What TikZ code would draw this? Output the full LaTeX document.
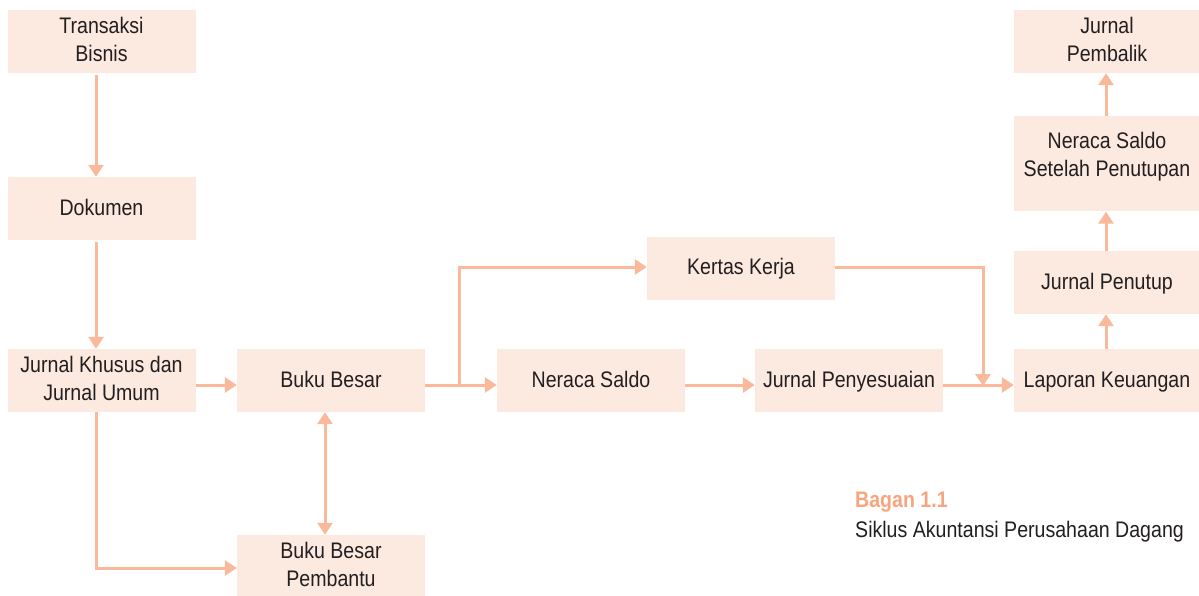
\documentclass[tikz,border=0pt]{standalone}
\usepackage{fontspec}
\setmainfont{Liberation Sans}[FakeStretch=0.87]
\usetikzlibrary{arrows.meta}
\definecolor{boxfill}{HTML}{FCEAE1}
\definecolor{arrcol}{HTML}{F9B99A}
\definecolor{txtcol}{HTML}{231F20}
\definecolor{capcol}{HTML}{F7A57F}
\newcommand\lastdp[1]{\rule[-#1pt]{0pt}{#1pt}}
\begin{document}
\begin{tikzpicture}[x=1pt,y=-1pt,
  box/.style={rectangle, fill=boxfill, draw=none, inner sep=0pt, align=center,
    text=txtcol, font=\fontsize{22.5}{28}\selectfont},
  wbox/.style={box, minimum width=188pt, minimum height=63pt},
  oneline/.style={text height=16pt, text depth=3pt},
  arr/.style={draw=arrcol, line width=3pt, -{Triangle[width=15pt,length=12pt]}},
  darr/.style={draw=arrcol, line width=3pt, {Triangle[width=15pt,length=12pt]}-{Triangle[width=15pt,length=12pt]}},
  captext/.style={anchor=base west, inner sep=0pt, font=\fontsize{22.5}{28}\selectfont}]
\useasboundingbox (0,0) rectangle (1199,596);
% boxes
\node[wbox] (tb) at (101.5,41.5) {Transaksi\\Bisnis\lastdp{5}};
\node[wbox, oneline] (dk) at (101.5,208.5) {Dokumen};
\node[wbox] (jk) at (101.5,380.5) {Jurnal Khusus dan\\Jurnal Umum\lastdp{5}};
\node[wbox, oneline] (bb) at (331,380.5) {Buku Besar};
\node[wbox] (bbp) at (331,566.5) {Buku Besar\\Pembantu\lastdp{5}};
\node[wbox, oneline] (ns) at (591,380.5) {Neraca Saldo};
\node[wbox, oneline] (kk) at (741,268) {Kertas Kerja};
\node[wbox, oneline] (jp) at (849,380.5) {Jurnal Penyesuaian};
\node[wbox, oneline, minimum width=186pt] (lk) at (1107,380.5) {Laporan Keuangan};
\node[wbox, oneline, minimum width=186pt] (jpt) at (1107,282.5) {Jurnal Penutup};
\node[wbox, minimum width=186pt, minimum height=95pt] (nss) at (1107,164) {Neraca Saldo\\Setelah Penutupan\lastdp{20}};
\node[wbox, minimum width=186pt] (jpb) at (1107,41.5) {Jurnal\\Pembalik\lastdp{5}};
% helper coordinates
\coordinate (lx) at (96,0);
\coordinate (bx) at (325,0);
\coordinate (rx) at (1106,0);
\coordinate (ry) at (0,385);
\coordinate (ly) at (0,568);
\coordinate (brx) at (459,0);
\coordinate (kx) at (983,0);
\coordinate (ky) at (0,267);
% connectors
\draw[arr, shorten <=2pt] (tb.south -| lx) -- (dk.north -| lx);
\draw[arr, shorten <=2pt] (dk.south -| lx) -- (jk.north -| lx);
\draw[arr] (jk.east |- ry) -- (bb.west |- ry);
\draw[arr] (jk.south -| lx) -- (lx |- ly) -- (bbp.west |- ly);
\draw[darr] (bb.south -| bx) -- (bbp.north -| bx);
\draw[arr] (bb.east |- ry) -- (ns.west |- ry);
\draw[arr] (brx |- ry) -- (brx |- ky) -- (kk.west |- ky);
\draw[arr] (ns.east |- ry) -- (jp.west |- ry);
\draw[arr] (jp.east |- ry) -- (lk.west |- ry);
\draw[arr] (kk.east |- ky) -- (kx |- ky) -- ([yshift=-1pt]kx |- ry);
\draw[arr] (lk.north -| rx) -- (jpt.south -| rx);
\draw[arr] (jpt.north -| rx) -- (nss.south -| rx);
\draw[arr] (nss.north -| rx) -- (jpb.south -| rx);
% caption
\node[captext, text=capcol, font=\fontsize{22.5}{28}\selectfont\bfseries] (c1) at (855,507) {Bagan 1.1};
\node[captext, text=txtcol] (c2) at (855,537) {Siklus Akuntansi Perusahaan Dagang};
\end{tikzpicture}
\end{document}
